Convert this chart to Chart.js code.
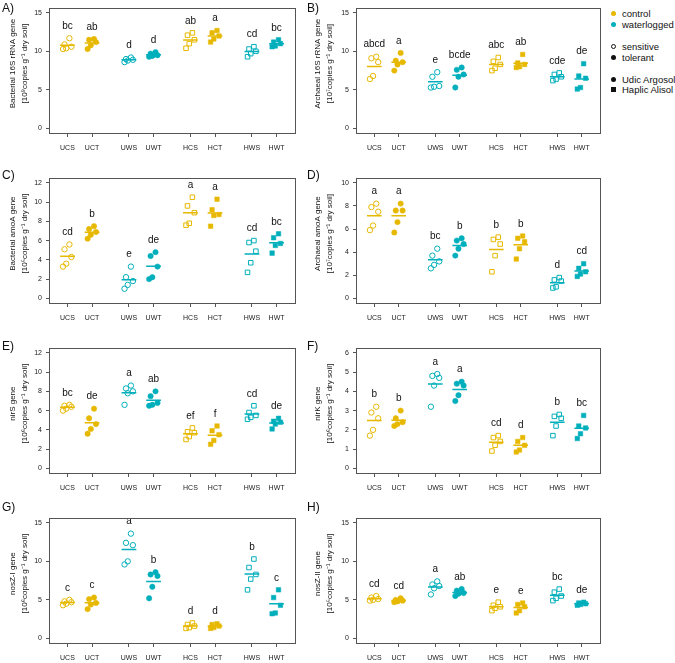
<!DOCTYPE html>
<html>
<head>
<meta charset="utf-8">
<script src="https://cdn.jsdelivr.net/npm/chart.js@4.4.1/dist/chart.umd.min.js"></script>
<style>
  body { margin: 0; background: #fff; font-family: "Liberation Sans", Arial, sans-serif; }
  .panel { position: absolute; width: 300px; height: 165px; }
  .tag { position: absolute; font-size: 12px; color: #111; line-height: 14px; }
  #legend { position: absolute; left: 611px; top: 0; font-size: 9.5px; color: #111; }
  #legend div { position: absolute; left: 0; white-space: nowrap; line-height: 11px; }
  #legend span.sym { display: inline-block; width: 5px; height: 5px; margin-right: 6px; vertical-align: 1px; box-sizing: border-box; }
</style>
</head>
<body>
<div id="legend">
  <div style="top:8px"><span class="sym" style="background:#E7B800;border-radius:50%"></span>control</div>
  <div style="top:19px"><span class="sym" style="background:#00AFBB;border-radius:50%"></span>waterlogged</div>
  <div style="top:41px"><span class="sym" style="border:1px solid #111;border-radius:50%"></span>sensitive</div>
  <div style="top:52px"><span class="sym" style="background:#111;border-radius:50%"></span>tolerant</div>
  <div style="top:74px"><span class="sym" style="background:#111;border-radius:50%"></span>Udic Argosol</div>
  <div style="top:84px"><span class="sym" style="background:#111"></span>Haplic Alisol</div>
</div>
<script>
const groups = ["UCS", "UCT", "UWS", "UWT", "HCS", "HCT", "HWS", "HWT"];

// replicate values, one list per group (same order as groups)
const bac16S = [[11.7, 10.9, 10.6, 10.4, 10.3], [11.6, 11.5, 11.2, 10.8, 10.3], [9.2, 9.0, 8.9, 8.8, 8.6], [9.9, 9.7, 9.5, 9.4, 9.3],
  [12.4, 12.1, 11.5, 11.0, 10.4], [12.7, 12.4, 12.0, 11.6, 11.2], [10.6, 10.3, 10.0, 9.7, 9.3], [11.5, 11.2, 11.0, 10.7, 10.6]];
const bac16SLetters = ["bc", "ab", "d", "d", "ab", "a", "cd", "bc"];

const arc16S = [[9.3, 9.1, 8.6, 6.8, 6.4], [9.8, 8.8, 8.6, 8.3, 7.5], [7.3, 6.7, 5.5, 5.4, 5.3], [7.9, 7.6, 7.0, 6.7, 5.3],
  [9.2, 8.7, 8.3, 7.8, 7.5], [9.6, 8.5, 8.3, 8.0, 7.9], [7.2, 7.0, 6.7, 6.4, 6.2], [8.4, 6.8, 6.5, 5.3, 5.1]];
const arc16SLetters = ["abcd", "a", "e", "bcde", "abc", "ab", "cde", "de"];

const bacAmoA = [[5.6, 5.1, 4.3, 3.6, 3.3], [7.5, 7.2, 6.9, 6.6, 6.2], [3.3, 2.2, 1.8, 1.4, 1.0], [4.8, 4.4, 3.3, 2.2, 2.0],
  [10.5, 9.6, 8.9, 7.8, 7.6], [10.3, 9.2, 8.7, 8.6, 7.5], [6.0, 5.8, 4.9, 3.7, 2.7], [6.7, 6.3, 5.7, 5.5, 4.7]];
const bacAmoALetters = ["cd", "b", "e", "de", "a", "a", "cd", "bc"];

const arcAmoA = [[8.2, 7.9, 7.5, 6.3, 5.9], [8.2, 7.6, 7.6, 6.6, 5.7], [4.3, 3.7, 3.2, 2.9, 2.6], [5.2, 5.0, 4.7, 4.3, 3.7],
  [5.3, 5.1, 4.7, 3.7, 2.3], [5.4, 5.2, 4.9, 4.3, 3.4], [1.8, 1.6, 1.5, 1.0, 0.9], [3.0, 2.6, 2.3, 2.1, 1.9]];
const arcAmoALetters = ["a", "a", "bc", "b", "b", "b", "d", "cd"];

const nirS = [[6.6, 6.5, 6.4, 6.2, 6.0], [6.2, 5.2, 4.6, 4.1, 3.6], [8.6, 8.3, 8.0, 7.8, 6.6], [8.0, 7.5, 6.8, 6.6, 6.5],
  [4.2, 3.8, 3.7, 3.3, 3.0], [4.4, 3.9, 3.5, 2.9, 2.5], [6.5, 5.8, 5.5, 5.3, 5.1], [5.2, 4.9, 4.8, 4.6, 4.1]];
const nirSLetters = ["bc", "de", "a", "ab", "ef", "f", "cd", "de"];

const nirK = [[3.2, 2.9, 2.6, 2.0, 1.7], [3.0, 2.6, 2.4, 2.3, 2.2], [4.9, 4.8, 4.7, 4.3, 3.2], [4.5, 4.4, 4.3, 3.8, 3.5],
  [1.7, 1.6, 1.4, 1.2, 0.9], [1.6, 1.4, 1.2, 0.95, 0.85], [2.8, 2.7, 2.6, 2.2, 1.7], [2.75, 2.2, 2.1, 1.8, 1.55]];
const nirKLetters = ["b", "b", "a", "a", "cd", "d", "b", "bc"];

const nosZ1 = [[5.0, 4.8, 4.7, 4.5, 4.3], [5.3, 5.1, 4.6, 4.4, 3.8], [13.6, 12.4, 12.1, 10.0, 9.6], [8.6, 8.3, 8.1, 6.7, 5.2],
  [2.0, 1.8, 1.6, 1.4, 1.3], [1.9, 1.8, 1.6, 1.4, 1.3], [10.3, 9.2, 8.3, 7.7, 6.3], [6.3, 5.3, 4.3, 3.3, 3.2]];
const nosZ1Letters = ["c", "c", "a", "b", "d", "d", "b", "c"];

const nosZ2 = [[5.5, 5.3, 5.1, 5.0, 4.9], [5.2, 5.0, 4.9, 4.8, 4.7], [7.4, 7.0, 6.8, 6.5, 5.7], [6.4, 6.2, 5.9, 5.8, 5.5],
  [4.7, 4.3, 4.1, 3.9, 3.6], [4.6, 4.4, 4.1, 3.6, 3.3], [6.4, 6.0, 5.5, 5.2, 4.9], [4.7, 4.6, 4.5, 4.4, 4.3]];
const nosZ2Letters = ["cd", "cd", "a", "ab", "e", "e", "bc", "de"];

const ticks15 = [0, 5, 10, 15];
const ticks12 = [0, 2, 4, 6, 8, 10, 12];
const ticks10 = [0, 2, 4, 6, 8, 10];
const ticks6 = [0, 1, 2, 3, 4, 5, 6];

const panels = [
  { tag: "A)", values: bac16S, letters: bac16SLetters, ticks: ticks15, title: ["Bacterial 16S rRNA gene", "[10⁹copies g⁻¹ dry soil]"] },
  { tag: "B)", values: arc16S, letters: arc16SLetters, ticks: ticks15, title: ["Archaeal 16S rRNA gene", "[10⁷copies g⁻¹ dry soil]"] },
  { tag: "C)", values: bacAmoA, letters: bacAmoALetters, ticks: ticks12, title: ["Bacterial amoA gene", "[10⁵copies g⁻¹ dry soil]"] },
  { tag: "D)", values: arcAmoA, letters: arcAmoALetters, ticks: ticks10, title: ["Archaeal amoA gene", "[10⁷copies g⁻¹ dry soil]"] },
  { tag: "E)", values: nirS, letters: nirSLetters, ticks: ticks12, title: ["nirS gene", "[10⁶copies g⁻¹ dry soil]"] },
  { tag: "F)", values: nirK, letters: nirKLetters, ticks: ticks6, title: ["nirK gene", "[10⁶copies g⁻¹ dry soil]"] },
  { tag: "G)", values: nosZ1, letters: nosZ1Letters, ticks: ticks15, title: ["nosZ-I gene", "[10⁶copies g⁻¹ dry soil]"] },
  { tag: "H)", values: nosZ2, letters: nosZ2Letters, ticks: ticks15, title: ["nosZ-II gene", "[10⁵copies g⁻¹ dry soil]"] }
];

const gold = "#E7B800";
const teal = "#00AFBB";
const axisGrey = "#555";
const font = "'Liberation Sans', Arial, sans-serif";
const jitter = [0.08, -0.12, 0.16, -0.05, -0.18, 0.12];
const tagTop = [1, 168, 339, 500];

// pairs of groups sit closer together, with a wider gap between pairs
function xOf(i) { return 1 + i + Math.floor(i / 2) * 0.5; }

const mean = a => a.reduce((s, v) => s + v, 0) / a.length;

const boxPlugin = {
  id: "box",
  afterDraw(chart) {
    const a = chart.chartArea, ctx = chart.ctx;
    ctx.save();
    ctx.strokeStyle = axisGrey;
    ctx.lineWidth = 1;
    ctx.strokeRect(Math.round(a.left) + 0.5, Math.round(a.top) + 0.5, Math.round(a.right - a.left), Math.round(a.bottom - a.top));
    ctx.restore();
  }
};

// two-line y title, sitting a little above the middle of the plot box
const yTitlePlugin = {
  id: "ytitle",
  afterDraw(chart, args, opts) {
    const a = chart.chartArea, ctx = chart.ctx;
    const cy = (a.top + a.bottom) / 2 - 7;
    ctx.save();
    ctx.font = "8px " + font;
    ctx.fillStyle = "#111";
    ctx.textAlign = "center";
    ctx.textBaseline = "middle";
    opts.text.forEach((t, k) => {
      ctx.save();
      ctx.translate(12.5 + k * 12.5, cy);
      ctx.rotate(-Math.PI / 2);
      ctx.fillText(t, 0, 0);
      ctx.restore();
    });
    ctx.restore();
  }
};

const lettersPlugin = {
  id: "letters",
  afterDatasetsDraw(chart, args, opts) {
    const ctx = chart.ctx, xs = chart.scales.x, ys = chart.scales.y;
    ctx.save();
    ctx.font = "10px " + font;
    ctx.fillStyle = "#111";
    ctx.textAlign = "center";
    ctx.textBaseline = "middle";
    opts.letters.forEach((t, i) => {
      const top = Math.max(...opts.values[i]);
      ctx.fillText(t, xs.getPixelForValue(xOf(i)), ys.getPixelForValue(top) - 12);
    });
    ctx.restore();
  }
};

panels.forEach((p, idx) => {
  const col = idx % 2, row = Math.floor(idx / 2);
  const wrap = document.createElement("div");
  wrap.className = "panel";
  wrap.style.left = col * 305 + "px";
  wrap.style.top = row * 170 + "px";
  const cv = document.createElement("canvas");
  cv.width = 300;
  cv.height = 165;
  wrap.appendChild(cv);
  document.body.appendChild(wrap);

  const tag = document.createElement("div");
  tag.className = "tag";
  tag.textContent = p.tag;
  tag.style.left = (col * 305 + 2) + "px";
  tag.style.top = tagTop[row] + "px";
  document.body.appendChild(tag);

  const top = p.ticks[p.ticks.length - 1];
  const lines = [], points = [];
  groups.forEach((g, i) => {
    const color = g[1] === "C" ? gold : teal;
    const filled = g[2] === "T";
    const m = mean(p.values[i]);
    lines.push({
      type: "line",
      data: [{ x: xOf(i) - 0.3, y: m }, { x: xOf(i) + 0.3, y: m }],
      borderColor: color,
      borderWidth: 1.5,
      pointRadius: 0
    });
    points.push({
      type: "scatter",
      data: p.values[i].map((v, k) => ({ x: xOf(i) + jitter[k], y: v })),
      pointStyle: g[0] === "U" ? "circle" : "rect",
      pointRadius: g[0] === "U" ? 2.7 : 3.2,
      backgroundColor: filled ? color : "rgba(0,0,0,0)",
      borderColor: color,
      borderWidth: filled ? 0.5 : 1
    });
  });

  new Chart(cv, {
    type: "scatter",
    data: { datasets: lines.concat(points) },
    options: {
      responsive: false,
      animation: false,
      layout: { padding: { top: 3, right: col ? 3 : 4, left: 0, bottom: 0 } },
      plugins: {
        legend: { display: false },
        tooltip: { enabled: false },
        letters: { letters: p.letters, values: p.values },
        ytitle: { text: p.title }
      },
      scales: {
        x: {
          type: "linear",
          min: 0.25,
          max: 10.25,
          afterBuildTicks: s => { s.ticks = groups.map((g, i) => ({ value: xOf(i) })); },
          afterFit: s => { s.height = 32; },
          ticks: {
            autoSkip: false,
            maxRotation: 0,
            padding: 7,
            color: "#222",
            font: { family: font, size: 7 },
            callback: (v, i) => groups[i]
          },
          grid: { drawOnChartArea: false, tickLength: 4, color: axisGrey },
          border: { display: false }
        },
        y: {
          min: -0.04 * top,
          max: 1.04 * top,
          afterBuildTicks: s => { s.ticks = p.ticks.map(v => ({ value: v })); },
          afterFit: s => { s.width = col ? 51 : 49; },
          ticks: { padding: 4, color: "#222", font: { family: font, size: 7 } },
          grid: { drawOnChartArea: false, tickLength: 3, color: axisGrey },
          border: { display: false }
        }
      }
    },
    plugins: [boxPlugin, yTitlePlugin, lettersPlugin]
  });
});
</script>
</body>
</html>
